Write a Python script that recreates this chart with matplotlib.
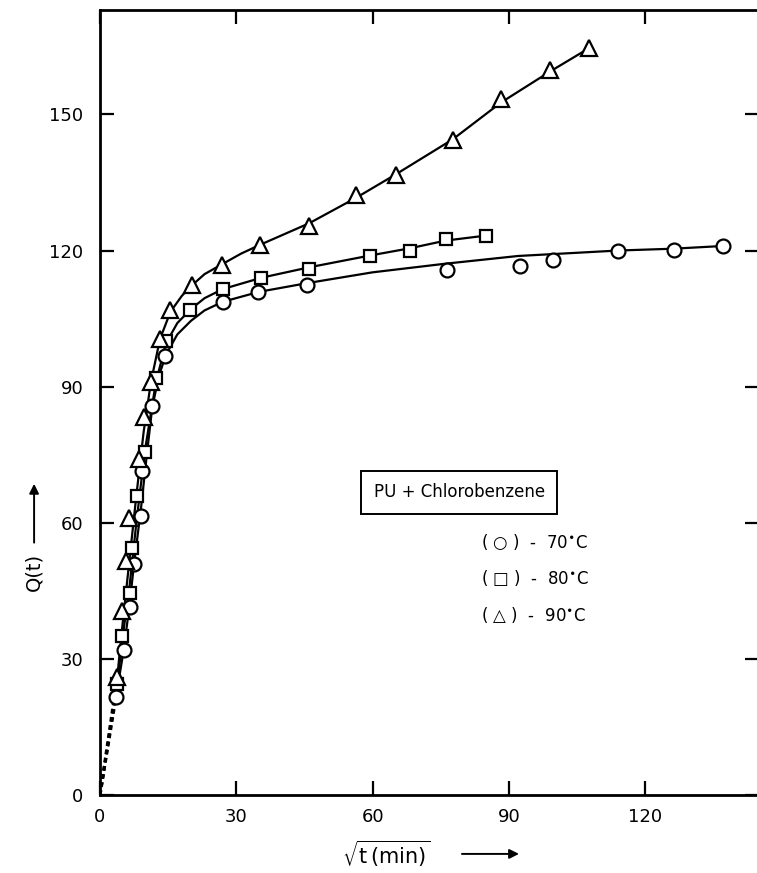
#!/usr/bin/env python3
"""Sorption curves Q(t) vs sqrt(t) for PU + chlorobenzene at three temperatures."""

import numpy as np
import matplotlib
matplotlib.use('Agg')
import matplotlib.pyplot as plt

circ_x = [3.5, 5.3, 6.5, 7.5, 9.0, 9.3, 11.5, 14.3, 27.1, 34.7, 45.5, 76.3, 92.5, 99.6, 114.0, 126.3, 137.0]
circ_q = [21.5, 32, 41.5, 51, 61.5, 71.5, 85.7, 96.8, 108.7, 110.8, 112.3, 115.6, 116.5, 118.0, 120.0, 120.2, 121.0]

sq_x = [3.8, 4.9, 6.5, 7.1, 8.2, 9.9, 12.3, 14.5, 19.9, 27.0, 35.5, 46.0, 59.4, 68.2, 76.1, 85.0]
sq_q = [24.5, 35, 44.5, 54.5, 66, 75.5, 92, 100, 106.9, 111.6, 113.9, 116.0, 118.8, 120.0, 122.6, 123.3]

tri_x = [3.8, 4.9, 5.7, 6.4, 8.5, 9.6, 11.2, 13.2, 15.5, 20.2, 26.9, 35.3, 46.0, 56.3, 65.1, 77.6, 88.2, 99.1, 107.6]
tri_q = [26, 40.5, 51.5, 61, 74, 83.4, 91, 100.6, 107, 112.3, 116.9, 121.3, 125.5, 132.2, 136.7, 144.3, 153.5, 159.8, 164.6]

# hand-drawn smooth curves
circ_fit_x = [3.5, 5.3, 6.5, 7.5, 9, 10.3, 11.5, 13, 14.5, 17, 20, 23, 27, 35, 45.5, 60, 76, 92, 114, 126, 137]
circ_fit_q = [21.5, 32.5, 42, 51, 63, 75, 85.5, 92.5, 97, 101.5, 104.5, 106.8, 108.7, 110.9, 112.8, 115.2,
              117.1, 118.8, 120.0, 120.4, 121.0]

sq_fit_x = [3.8, 5, 6.5, 8, 9.9, 12.3, 14.5, 17, 19.9, 23, 27, 35.5, 46, 59.4, 68.2, 76.1, 85]
sq_fit_q = [24.5, 35, 46, 60, 76, 91, 99.5, 104, 107, 109.5, 111.5, 114, 116.3, 118.9, 120.5, 122.2, 123.3]

tri_fit_x = [3.8, 5, 6.5, 8, 9.6, 11.2, 13.2, 15.5, 18, 20.2, 23, 26.9, 31, 35.3, 46, 56.3, 65.1, 77.6,
             88.2, 99.1, 107.6]
tri_fit_q = [26, 38, 52, 66, 80, 91, 100.5, 106.5, 110, 112.3, 114.8, 117, 119.3, 121.3, 126, 131.6,
             136.8, 144.5, 152.6, 159.5, 164.6]

x_ticks = [0, 30, 60, 90, 120]
y_ticks = [0, 30, 60, 90, 120, 150]
legend_lines = ['( ○ )  -  70$^{\\bullet}$C', '( □ )  -  80$^{\\bullet}$C', '( △ )  -  90$^{\\bullet}$C']


def main():
    fig = plt.figure(figsize=(7.57, 8.73), dpi=100)
    ax = fig.add_axes([0.1321, 0.0893, 0.8706, 0.8992])

    series = [
        (circ_x, circ_q, circ_fit_x, circ_fit_q, 'o', 10),
        (sq_x, sq_q, sq_fit_x, sq_fit_q, 's', 8),
        (tri_x, tri_q, tri_fit_x, tri_fit_q, '^', 11),
    ]
    for x, q, fx, fq, marker, ms in series:
        # dashed extrapolation back to the origin
        ax.plot([0, fx[0]], [0, fq[0]], color='black', lw=2.2, ls=(0, (1.5, 1.2)))
        ax.plot(fx, fq, color='black', lw=1.6, zorder=2)
        ax.plot(x, q, ls='none', marker=marker, ms=ms, mfc='white', mec='black',
                mew=1.6, zorder=3)

    ax.set_xlim(0, 145)
    ax.set_ylim(0, 173)
    ax.set_xticks(x_ticks)
    ax.set_yticks(y_ticks)
    ax.tick_params(direction='in', length=10, width=1.6, top=True, right=True,
                   labelsize=13)
    ax.tick_params(axis='y', pad=12)
    ax.tick_params(axis='x', pad=9)
    for s in ax.spines.values():
        s.set_linewidth(2.0)
    ax.spines['right'].set_visible(False)

    # axis labels with arrows
    ax.text(-0.1, 0.284, 'Q(t)', transform=ax.transAxes, rotation=90,
            ha='center', va='center', fontsize=14)
    ax.annotate('', xy=(-0.1, 0.40), xytext=(-0.1, 0.318),
                xycoords='axes fraction',
                arrowprops=dict(arrowstyle='-|>', color='black', lw=1.4, mutation_scale=14))
    ax.text(0.435, -0.075, r'$\sqrt{\mathrm{t\,(min)}}$', transform=ax.transAxes,
            ha='center', va='center', fontsize=15)
    ax.annotate('', xy=(0.64, -0.075), xytext=(0.545, -0.075),
                xycoords='axes fraction',
                arrowprops=dict(arrowstyle='-|>', color='black', lw=1.4, mutation_scale=14))

    # boxed title plus symbol key
    ax.text(0.545, 0.386, 'PU + Chlorobenzene', transform=ax.transAxes, fontsize=12,
            ha='center', va='center',
            bbox=dict(boxstyle='square,pad=0.75', fc='white', ec='black', lw=1.4))
    for i, s in enumerate(legend_lines):
        ax.text(0.578, 0.3227 - i * 0.0466, s, transform=ax.transAxes, fontsize=12,
                ha='left', va='center')

    fig.savefig('out.png', dpi=100)


if __name__ == '__main__':
    main()
